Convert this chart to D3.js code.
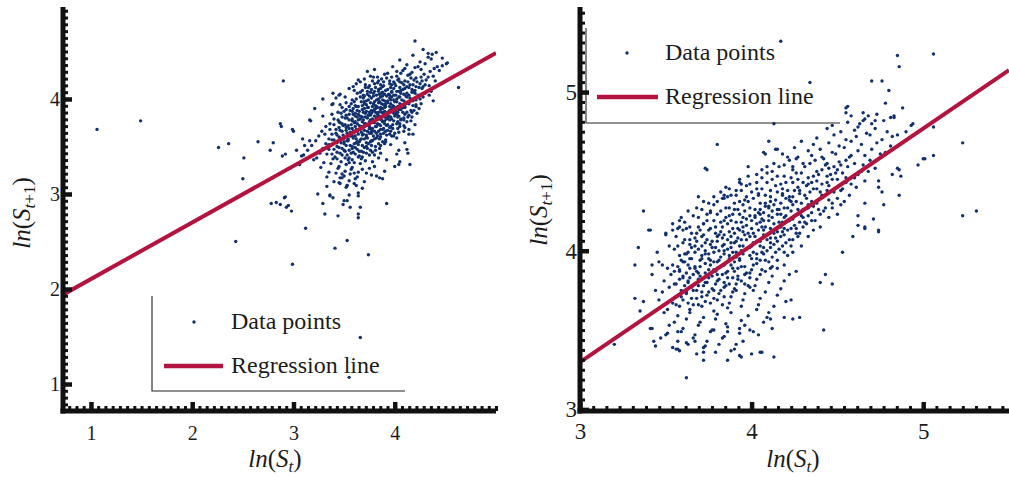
<!DOCTYPE html>
<html>
<head>
<meta charset="utf-8">
<script src="https://cdn.jsdelivr.net/npm/d3@7"></script>
<style>
  body { margin: 0; background: #ffffff; }
  svg { display: block; }
  text { font-family: 'Liberation Serif', 'DejaVu Serif', 'Liberation Sans', sans-serif; fill: #1c1c1c; }
</style>
</head>
<body>
<svg id="chart" width="1009" height="477"></svg>
<script>
// ---- left panel: ln(S_t) vs ln(S_t+1), first sample ----
const leftOutliers = [
  [1.06,3.68],[1.49,3.77],[2.90,4.19],[2.26,3.49],[2.36,3.53],[2.51,3.38],[2.50,3.16],[2.65,3.55],[2.77,3.46],[2.80,3.54],
  [2.87,3.74],[2.88,3.71],[2.89,3.40],[3.00,3.66],[2.78,2.90],[2.83,2.91],[2.87,2.89],[2.91,2.96],[2.93,2.86],[2.98,2.82],
  [2.43,2.50],[2.99,2.26],[3.12,2.64],[3.41,2.43],[3.53,2.51],[3.74,2.36],[3.92,2.90],[3.66,1.49],[3.55,1.07],[4.63,4.12],
  [4.20,4.61],[4.33,4.48],[4.37,4.47],[3.29,2.90],[3.31,2.79],[3.44,2.77],[3.49,2.89],[3.56,2.86],[3.64,2.79],[3.64,2.98],
  [3.64,2.75],[3.24,3.00],[3.36,2.99],[3.53,2.93],[2.92,3.42],[3.03,3.46],[3.08,3.40],[3.11,3.51],[3.16,3.56],[2.99,3.68],
  [3.17,3.77],[3.29,4.00],[3.38,3.94],[3.39,4.06],[3.45,4.04],[3.73,4.29],[4.51,4.37],[4.47,4.35],[4.14,3.63],[4.18,3.63],
  [4.13,3.43],[4.04,3.46],[3.46,3.11],[3.53,3.09],[3.48,3.21],[3.77,3.20],[3.85,3.17],[4.00,3.29],[4.15,3.31],[4.05,3.34],
  [2.95,2.88],[3.66,2.86],[2.92,2.97]
];
const leftCore = [
  [4.28,4.52],[4.41,4.49],[4.18,4.46],[4.33,4.44],[4.47,4.43],[4.05,4.41],[4.25,4.39],[4.36,4.42],[4.52,4.38],
  [3.98,4.34],[4.12,4.36],[4.20,4.33],[4.30,4.37],[4.42,4.34],[3.80,4.31],[4.02,4.29],[4.10,4.32],[4.17,4.28],[4.26,4.31],[4.35,4.29],[4.44,4.30],
  [3.76,4.24],[3.90,4.26],[3.97,4.23],[4.06,4.27],[4.13,4.25],[4.21,4.22],[4.29,4.26],[4.38,4.24],
  [3.70,4.21],[3.84,4.19],[3.92,4.22],[3.99,4.18],[4.04,4.21],[4.10,4.19],[4.16,4.22],[4.22,4.18],[4.31,4.20],[4.40,4.19],
  [3.62,4.16],[3.75,4.14],[3.83,4.17],[3.88,4.13],[3.95,4.16],[4.01,4.14],[4.07,4.17],[4.12,4.13],[4.18,4.15],[4.25,4.16],[4.34,4.14],
  [3.55,4.11],[3.68,4.09],[3.74,4.12],[3.80,4.08],[3.86,4.11],[3.91,4.09],[3.96,4.12],[4.02,4.08],[4.08,4.10],[4.14,4.12],[4.20,4.09],[4.27,4.11],[4.36,4.08],
  [3.46,4.05],[3.63,4.06],[3.70,4.03],[3.76,4.07],[3.82,4.04],[3.87,4.06],[3.92,4.03],[3.97,4.07],[4.01,4.04],[4.06,4.06],[4.11,4.03],[4.17,4.07],[4.23,4.04],[4.30,4.06],
  [3.42,4.01],[3.58,3.99],[3.66,4.02],[3.72,3.98],[3.77,4.01],[3.82,3.99],[3.86,4.02],[3.90,3.98],[3.95,4.01],[3.99,3.99],[4.04,4.02],[4.09,3.98],[4.15,4.01],[4.21,3.99],[4.28,4.02],[4.38,3.98],
  [3.39,3.95],[3.52,3.96],[3.61,3.93],[3.67,3.97],[3.72,3.94],[3.76,3.96],[3.81,3.93],[3.85,3.97],[3.89,3.94],[3.93,3.96],[3.98,3.93],[4.02,3.97],[4.07,3.94],[4.12,3.96],[4.18,3.93],[4.26,3.95],
  [3.21,3.90],[3.48,3.91],[3.56,3.88],[3.62,3.92],[3.68,3.89],[3.73,3.91],[3.77,3.88],[3.82,3.92],[3.86,3.89],[3.90,3.91],[3.95,3.88],[3.99,3.92],[4.04,3.89],[4.10,3.91],[4.16,3.88],[4.24,3.90],
  [3.44,3.86],[3.52,3.83],[3.58,3.87],[3.64,3.84],[3.69,3.86],[3.74,3.83],[3.78,3.87],[3.83,3.84],[3.87,3.86],[3.92,3.83],[3.97,3.87],[4.02,3.84],[4.08,3.86],[4.14,3.83],[4.22,3.85],
  [3.29,3.82],[3.40,3.79],[3.48,3.81],[3.55,3.78],[3.61,3.82],[3.66,3.79],[3.71,3.81],[3.76,3.78],[3.80,3.82],[3.85,3.79],[3.90,3.81],[3.95,3.78],[4.00,3.82],[4.06,3.79],[4.13,3.81],
  [3.16,3.78],[3.36,3.74],[3.45,3.76],[3.51,3.73],[3.58,3.77],[3.63,3.74],[3.68,3.76],[3.73,3.73],[3.78,3.77],[3.83,3.74],[3.88,3.76],[3.93,3.73],[3.99,3.77],[4.05,3.74],[4.12,3.76],[4.20,3.73],
  [3.32,3.71],[3.42,3.68],[3.49,3.72],[3.55,3.69],[3.61,3.71],[3.66,3.68],[3.71,3.72],[3.76,3.69],[3.81,3.71],[3.86,3.68],[3.92,3.72],[3.98,3.69],[4.05,3.71],[4.14,3.68],
  [3.28,3.66],[3.38,3.63],[3.46,3.67],[3.53,3.64],[3.59,3.66],[3.64,3.63],[3.70,3.67],[3.75,3.64],[3.80,3.66],[3.86,3.63],[3.93,3.67],[4.00,3.64],[4.09,3.66],
  [3.09,3.58],[3.25,3.61],[3.35,3.58],[3.43,3.62],[3.50,3.59],[3.56,3.61],[3.62,3.58],[3.68,3.62],[3.73,3.59],[3.79,3.61],[3.85,3.58],[3.92,3.62],[4.02,3.59],
  [3.22,3.56],[3.32,3.53],[3.40,3.57],[3.47,3.54],[3.54,3.56],[3.60,3.53],[3.66,3.57],[3.72,3.54],[3.78,3.56],[3.84,3.53],[3.91,3.57],[4.10,3.54],
  [3.18,3.51],[3.29,3.48],[3.37,3.52],[3.45,3.49],[3.52,3.51],[3.58,3.48],[3.64,3.52],[3.70,3.49],[3.77,3.51],[3.85,3.48],[3.96,3.52],
  [3.14,3.46],[3.26,3.43],[3.35,3.47],[3.43,3.44],[3.50,3.46],[3.57,3.43],[3.63,3.47],[3.69,3.44],[3.76,3.46],[3.86,3.43],[4.12,3.47],
  [3.10,3.41],[3.23,3.38],[3.33,3.42],[3.41,3.39],[3.48,3.41],[3.55,3.38],[3.61,3.42],[3.68,3.39],[3.75,3.41],[3.84,3.38],[4.02,3.42],
  [3.20,3.36],[3.30,3.33],[3.39,3.37],[3.47,3.34],[3.54,3.36],[3.60,3.33],[3.67,3.37],[3.78,3.34],[3.92,3.36],
  [3.06,3.31],[3.27,3.28],[3.37,3.32],[3.45,3.29],[3.52,3.31],[3.58,3.28],[3.66,3.32],[3.80,3.29],[4.04,3.31],
  [3.35,3.23],[3.44,3.27],[3.51,3.24],[3.57,3.26],[3.64,3.23],[3.75,3.27],[3.90,3.24],
  [3.33,3.18],[3.42,3.22],[3.50,3.19],[3.56,3.21],[3.63,3.18],[3.72,3.22],[3.82,3.19],
  [3.40,3.13],[3.48,3.17],[3.55,3.14],[3.61,3.16],[3.70,3.13],[3.88,3.16],
  [3.33,3.08],[3.45,3.12],[3.53,3.09],[3.60,3.11],[3.52,3.07],[3.68,3.06],
  [3.36,2.98],[3.55,2.99],[3.64,3.01],[3.39,2.96],[3.50,2.93]
];
const leftCoreDense = [
  [4.23,4.34],[4.39,4.32],[4.08,4.30],[3.93,4.27],[4.15,4.26],[4.33,4.23],[3.79,4.23],[3.87,4.21],[4.02,4.24],[4.19,4.20],[4.27,4.19],
  [3.66,4.18],[3.80,4.16],[3.97,4.15],[4.05,4.18],[4.21,4.13],[4.30,4.15],[3.59,4.13],[3.71,4.12],[3.84,4.10],[3.89,4.14],[3.99,4.11],
  [4.05,4.12],[4.17,4.10],[4.24,4.12],[3.66,4.07],[3.73,4.05],[3.79,4.06],[3.84,4.08],[3.90,4.05],[3.95,4.04],[4.04,4.08],[4.09,4.05],
  [4.14,4.04],[4.20,4.06],[4.34,4.04],[3.51,4.02],[3.62,4.00],[3.69,4.01],[3.75,4.03],[3.80,3.97],[3.84,4.00],[3.88,4.03],[3.93,3.98],
  [3.97,4.02],[4.02,4.00],[4.07,3.99],[4.12,4.02],[4.18,3.98],[4.25,4.00],[3.46,3.94],[3.57,3.95],[3.64,3.92],[3.70,3.95],[3.74,3.91],
  [3.79,3.95],[3.83,3.91],[3.87,3.95],[3.91,3.92],[3.96,3.95],[4.00,3.91],[4.05,3.95],[4.10,3.92],[4.14,3.95],[4.21,3.92],[3.52,3.89],
  [3.59,3.90],[3.65,3.87],[3.70,3.90],[3.75,3.86],[3.80,3.89],[3.84,3.86],[3.88,3.90],[3.93,3.86],[3.97,3.90],[4.01,3.87],[4.06,3.89],
  [4.12,3.86],[4.19,3.88],[3.38,3.84],[3.47,3.85],[3.55,3.84],[3.61,3.85],[3.66,3.82],[3.71,3.85],[3.76,3.83],[3.81,3.86],[3.85,3.82],
  [3.89,3.85],[3.94,3.82],[3.99,3.85],[4.04,3.82],[4.10,3.84],[4.17,3.81],[3.44,3.78],[3.51,3.80],[3.58,3.79],[3.63,3.81],[3.69,3.78],
  [3.73,3.80],[3.78,3.79],[3.83,3.81],[3.87,3.78],[3.93,3.80],[3.97,3.79],[4.03,3.81],[4.09,3.78],[3.40,3.73],[3.48,3.74],[3.54,3.72],
  [3.60,3.75],[3.65,3.72],[3.70,3.74],[3.75,3.71],[3.80,3.75],[3.86,3.72],[3.90,3.74],[3.96,3.71],[4.02,3.74],[4.09,3.72],[3.36,3.68],
  [3.45,3.70],[3.52,3.67],[3.58,3.69],[3.63,3.66],[3.68,3.70],[3.73,3.66],[3.78,3.69],[3.84,3.66],[3.89,3.69],[3.96,3.66],[4.03,3.69],
  [3.31,3.63],[3.42,3.64],[3.49,3.62],[3.56,3.65],[3.61,3.61],[3.67,3.65],[3.72,3.62],[3.77,3.64],[3.83,3.61],[3.89,3.64],[3.97,3.61],
  [3.38,3.57],[3.46,3.59],[3.53,3.56],[3.59,3.59],[3.65,3.55],[3.70,3.58],[3.76,3.55],[3.82,3.59],[3.88,3.55],[3.35,3.52],[3.43,3.54],
  [3.50,3.53],[3.56,3.51],[3.62,3.54],[3.68,3.51],[3.74,3.53],[3.81,3.50],[3.90,3.53],[3.40,3.47],[3.48,3.48],[3.55,3.46],[3.61,3.49],
  [3.67,3.45],[3.73,3.48],[3.81,3.46],[3.38,3.42],[3.46,3.43],[3.53,3.41],[3.59,3.44],[3.65,3.40],[3.72,3.43],[3.80,3.41],[3.43,3.37],
  [3.51,3.38],[3.58,3.36],[3.64,3.39],[3.71,3.35],[3.55,3.33],[3.68,3.26],[3.60,3.22],[3.46,3.17],[3.62,3.09]
];
const leftCoreCentre = [
  [3.64,4.20],[3.78,4.19],[3.95,4.19],[4.13,4.18],[4.26,4.23],[3.71,4.15],[3.86,4.15],[4.00,4.16],[4.15,4.15],[4.28,4.13],
  [3.60,4.09],[3.77,4.10],[3.93,4.10],[4.06,4.09],[4.19,4.08],[3.69,4.04],[3.85,4.05],[3.99,4.04],[4.12,4.06],[4.27,4.05],
  [3.60,3.97],[3.74,3.99],[3.88,3.99],[4.00,3.97],[4.16,3.98],[3.55,3.92],[3.68,3.93],[3.81,3.90],[3.95,3.92],[4.08,3.91],[4.21,3.94],
  [3.50,3.87],[3.63,3.88],[3.77,3.85],[3.90,3.87],[4.03,3.86],[4.17,3.86],[3.53,3.80],[3.68,3.81],[3.82,3.80],[3.96,3.81],[4.09,3.80],
  [3.46,3.75],[3.61,3.76],[3.75,3.76],[3.90,3.77],[4.03,3.76],[4.16,3.77],[3.52,3.70],[3.67,3.71],[3.82,3.71],[3.95,3.70],[4.10,3.70],
  [3.48,3.66],[3.62,3.66],[3.77,3.66],[3.91,3.66],[4.04,3.65],[3.45,3.60],[3.58,3.61],[3.72,3.60],[3.86,3.60],[3.99,3.61],
  [3.50,3.55],[3.63,3.55],[3.77,3.56],[3.91,3.55],[3.43,3.50],[3.58,3.50],[3.72,3.50],[3.86,3.51],[3.51,3.45],[3.65,3.45],[3.78,3.44],
  [3.83,4.23],[3.89,4.18],[4.03,4.20],[4.09,4.15],[3.81,4.12],[3.97,4.08],[4.10,4.11],[3.73,4.08],[3.88,4.07],[4.05,4.02],[3.79,4.03],
  [3.94,4.05],[3.70,3.97],[3.84,3.96],[3.96,3.99],[4.11,3.96],[3.78,3.92],[3.91,3.95],[4.03,3.92],[3.72,3.87],[3.86,3.91],[3.99,3.88],
  [3.59,3.84],[3.74,3.83],[3.88,3.82],[4.01,3.84],[3.64,3.78],[3.79,3.78],[3.92,3.79],[4.06,3.78],[3.57,3.73],[3.71,3.74],[3.85,3.73],
  [3.98,3.73],[3.62,3.68],[3.75,3.69],[3.88,3.68],[3.56,3.63],[3.69,3.63],[3.82,3.64],[3.95,3.63],[3.54,3.58],[3.67,3.58],[3.80,3.58]
];
const leftFit = { intercept: 1.51, slope: 0.595 };
const leftXTicks = [1, 2, 3, 4];
const leftYTicks = [1, 2, 3, 4];

// ---- right panel: second sample ----
const rightOutliers = [
  [4.17,5.32],[4.85,5.23],[4.86,5.16],[5.06,5.24],[4.34,5.06],[4.70,5.07],[4.76,5.07],[4.80,5.01],[4.78,4.93],[4.81,4.84],
  [4.83,4.84],[4.88,4.90],[4.55,4.90],[4.55,4.87],[4.13,4.80],[4.93,4.79],[5.06,4.78],[5.23,4.68],[5.06,4.60],[5.00,4.58],
  [4.97,4.54],[4.86,4.51],[4.87,4.47],[4.86,4.35],[5.23,4.22],[5.31,4.25],[4.74,4.13],[4.71,4.20],[4.66,4.15],[4.59,4.09],
  [4.53,3.99],[4.47,3.79],[4.40,3.80],[4.43,3.85],[4.42,3.50],[4.28,3.58],[4.24,3.57],[4.19,3.58],[4.13,3.33],[4.05,3.36],
  [3.93,3.34],[3.86,3.31],[3.72,3.31],[3.62,3.20],[3.20,3.41],[3.44,3.40],[3.43,3.43],[3.56,3.38],[3.67,3.43],[3.34,4.02],
  [3.37,4.25],[3.32,3.91],[3.32,3.70],[3.37,3.68],[3.35,3.62],[3.40,4.13],[3.50,4.10],[3.74,4.51],[3.80,4.67],[3.69,4.34],
  [3.98,4.53],[4.09,4.53],[4.10,4.69],[4.08,4.61],[4.14,4.64],[4.21,4.59],[4.24,4.53],[4.03,4.48],[3.76,4.25],[3.84,4.35],
  [3.94,4.42],[4.15,4.64],[4.07,4.62],[3.73,4.52],[3.85,4.40],[3.91,4.38],[3.93,4.43],[3.83,4.33],[3.59,4.21],[3.41,4.13],
  [3.54,4.13],[3.58,4.15],[3.62,4.14],[3.57,3.38],[3.72,3.36],[3.94,3.33],[3.91,3.41],[4.06,3.36],[3.73,3.40],[3.62,3.42],
  [3.51,3.48],[3.57,3.49],[3.41,3.51],[3.42,3.91],[3.42,3.85],[3.48,3.91],[3.48,3.74],[4.23,3.69],[4.09,3.58],[4.11,3.57],
  [3.99,3.50],[4.01,3.49],[3.93,3.51],[3.86,3.49],[3.78,3.50],[4.56,4.91],[4.65,4.87],[4.68,4.85],[4.65,4.82],[4.72,4.82],
  [4.63,4.80],[4.83,4.85],[4.94,4.80],[4.90,4.75],[4.85,4.73],[4.82,4.72],[5.01,4.58],[4.85,4.52],[4.82,4.48],[4.76,4.37],
  [4.74,4.40],[4.74,4.44],[4.77,4.29],[4.66,4.30],[4.62,4.22],[4.62,4.16],[4.66,4.14],[4.74,4.12]
];
const rightCore = [
  [4.58,4.85],[4.66,4.83],[4.73,4.86],[4.47,4.79],[4.56,4.81],[4.62,4.78],[4.70,4.80],[4.77,4.82],
  [4.44,4.77],[4.52,4.75],[4.60,4.76],[4.67,4.74],[4.72,4.77],[4.79,4.75],[4.38,4.71],[4.48,4.73],[4.55,4.70],[4.61,4.72],[4.69,4.73],[4.76,4.70],
  [4.29,4.69],[4.36,4.67],[4.45,4.68],[4.51,4.66],[4.58,4.69],[4.64,4.67],[4.73,4.68],[4.81,4.66],
  [4.25,4.65],[4.33,4.63],[4.40,4.64],[4.47,4.62],[4.54,4.65],[4.62,4.63],[4.70,4.64],[4.78,4.62],
  [4.18,4.61],[4.27,4.59],[4.35,4.60],[4.42,4.58],[4.49,4.61],[4.57,4.59],[4.66,4.60],[4.75,4.61],
  [4.13,4.55],[4.22,4.57],[4.30,4.55],[4.37,4.57],[4.43,4.54],[4.51,4.56],[4.60,4.55],[4.69,4.57],
  [4.06,4.51],[4.16,4.53],[4.24,4.51],[4.31,4.53],[4.38,4.50],[4.45,4.52],[4.50,4.51],[4.56,4.53],[4.64,4.50],[4.72,4.52],
  [3.98,4.47],[4.09,4.49],[4.19,4.47],[4.26,4.49],[4.33,4.46],[4.39,4.48],[4.44,4.47],[4.49,4.49],[4.55,4.46],[4.62,4.48],
  [3.93,4.45],[4.03,4.43],[4.12,4.45],[4.20,4.43],[4.27,4.45],[4.33,4.42],[4.38,4.44],[4.44,4.43],[4.50,4.45],[4.58,4.42],[4.66,4.44],
  [3.87,4.39],[3.97,4.41],[4.06,4.39],[4.14,4.41],[4.21,4.38],[4.27,4.40],[4.32,4.41],[4.38,4.39],[4.45,4.41],[4.52,4.38],[4.61,4.40],
  [3.82,4.37],[3.91,4.35],[4.00,4.37],[4.08,4.35],[4.15,4.37],[4.22,4.34],[4.28,4.36],[4.34,4.37],[4.41,4.35],[4.48,4.37],[4.57,4.35],
  [3.72,4.31],[3.84,4.33],[3.93,4.31],[4.01,4.33],[4.08,4.30],[4.14,4.32],[4.20,4.33],[4.26,4.31],[4.32,4.33],[4.38,4.30],[4.45,4.32],[4.54,4.31],
  [3.68,4.27],[3.78,4.29],[3.87,4.27],[3.95,4.29],[4.02,4.26],[4.08,4.28],[4.13,4.29],[4.19,4.27],[4.24,4.29],[4.30,4.26],[4.36,4.28],[4.43,4.27],[4.52,4.29],
  [3.63,4.25],[3.74,4.23],[3.82,4.25],[3.89,4.23],[3.96,4.25],[4.02,4.22],[4.07,4.24],[4.12,4.25],[4.17,4.23],[4.23,4.25],[4.29,4.22],[4.35,4.24],[4.42,4.25],[4.50,4.23],
  [3.58,4.19],[3.69,4.21],[3.78,4.19],[3.85,4.21],[3.91,4.18],[3.97,4.20],[4.02,4.21],[4.07,4.19],[4.12,4.21],[4.18,4.18],[4.24,4.20],[4.30,4.21],[4.37,4.19],[4.45,4.21],
  [3.54,4.17],[3.64,4.15],[3.72,4.17],[3.79,4.15],[3.86,4.17],[3.92,4.14],[3.97,4.16],[4.03,4.17],[4.08,4.15],[4.13,4.17],[4.19,4.14],[4.25,4.16],[4.32,4.17],[4.40,4.15],
  [3.50,4.11],[3.60,4.13],[3.68,4.11],[3.75,4.13],[3.81,4.10],[3.87,4.12],[3.93,4.13],[3.98,4.11],[4.04,4.13],[4.09,4.10],[4.15,4.12],[4.21,4.13],[4.28,4.11],[4.36,4.13],
  [3.56,4.09],[3.64,4.07],[3.71,4.09],[3.77,4.06],[3.83,4.08],[3.88,4.09],[3.94,4.07],[3.99,4.09],[4.05,4.06],[4.11,4.08],[4.17,4.09],[4.24,4.07],[4.33,4.09],
  [3.52,4.03],[3.60,4.05],[3.67,4.03],[3.73,4.05],[3.79,4.02],[3.84,4.04],[3.90,4.05],[3.95,4.03],[4.01,4.05],[4.07,4.02],[4.13,4.04],[4.20,4.05],[4.29,4.03],
  [3.45,3.99],[3.55,4.01],[3.63,3.99],[3.69,4.01],[3.75,3.98],[3.81,4.00],[3.86,4.01],[3.91,3.99],[3.97,4.01],[4.03,3.98],[4.09,4.00],[4.16,4.01],[4.24,3.99],
  [3.58,3.97],[3.65,3.95],[3.71,3.97],[3.76,3.94],[3.82,3.96],[3.87,3.97],[3.93,3.95],[3.99,3.97],[4.05,3.94],[4.12,3.96],[4.21,3.97],
  [3.46,3.93],[3.54,3.91],[3.61,3.93],[3.67,3.90],[3.73,3.92],[3.78,3.93],[3.84,3.91],[3.90,3.93],[3.96,3.90],[4.03,3.92],[4.10,3.93],[4.19,3.91],
  [3.51,3.89],[3.58,3.87],[3.64,3.89],[3.69,3.86],[3.75,3.88],[3.80,3.89],[3.86,3.87],[3.92,3.89],[3.99,3.86],[4.06,3.88],[4.15,3.89],[4.26,3.87],
  [3.53,3.85],[3.60,3.83],[3.66,3.85],[3.71,3.82],[3.77,3.84],[3.83,3.85],[3.89,3.83],[3.96,3.85],[4.03,3.82],[4.12,3.84],[4.22,3.85],
  [3.49,3.81],[3.56,3.79],[3.63,3.81],[3.69,3.78],[3.74,3.80],[3.80,3.81],[3.87,3.79],[3.94,3.81],[4.02,3.78],[4.10,3.80],[4.19,3.81],
  [3.44,3.75],[3.52,3.77],[3.59,3.75],[3.65,3.77],[3.71,3.74],[3.77,3.76],[3.84,3.77],[3.91,3.75],[3.99,3.77],[4.08,3.74],[4.17,3.76],
  [3.56,3.71],[3.62,3.73],[3.68,3.70],[3.74,3.72],[3.81,3.73],[3.88,3.71],[3.96,3.73],[4.05,3.70],[4.15,3.72],
  [3.46,3.69],[3.54,3.67],[3.60,3.69],[3.66,3.66],[3.73,3.68],[3.80,3.69],[3.87,3.67],[3.95,3.69],[4.04,3.66],[4.20,3.68],
  [3.51,3.63],[3.58,3.65],[3.64,3.63],[3.71,3.65],[3.78,3.62],[3.86,3.64],[3.94,3.65],[4.03,3.63],[4.13,3.65],
  [3.49,3.61],[3.57,3.59],[3.64,3.61],[3.72,3.58],[3.80,3.60],[3.88,3.61],[3.98,3.59],[4.10,3.61],
  [3.55,3.55],[3.62,3.57],[3.70,3.55],[3.79,3.57],[3.85,3.54],[3.94,3.56],[4.07,3.55],
  [3.42,3.51],[3.52,3.53],[3.60,3.51],[3.69,3.53],[3.77,3.50],[3.86,3.52],[3.96,3.53],[4.12,3.51],
  [3.50,3.47],[3.59,3.49],[3.67,3.47],[3.76,3.49],[3.84,3.46],[3.93,3.48],[4.04,3.47],
  [3.47,3.45],[3.57,3.43],[3.66,3.45],[3.74,3.43],[3.83,3.45],[3.95,3.43],
  [3.54,3.39],[3.63,3.41],[3.72,3.39],[3.81,3.41],[3.90,3.38],[3.58,3.37],[3.68,3.35],[3.79,3.36],[3.88,3.37],[4.00,3.35]
];
const rightCoreDense = [
  [4.26,4.58],[4.41,4.59],[4.55,4.57],[4.19,4.54],[4.34,4.55],[4.48,4.53],[4.65,4.54],[4.12,4.50],[4.29,4.49],[4.41,4.51],[4.53,4.49],[4.68,4.50],
  [4.06,4.46],[4.15,4.47],[4.23,4.46],[4.36,4.47],[4.47,4.45],[4.60,4.46],[3.99,4.42],[4.09,4.43],[4.17,4.42],[4.24,4.43],[4.30,4.43],[4.41,4.42],[4.55,4.43],
  [3.94,4.38],[4.03,4.39],[4.11,4.38],[4.18,4.39],[4.25,4.38],[4.36,4.39],[4.44,4.38],[4.53,4.39],
  [3.78,4.34],[3.88,4.35],[3.97,4.34],[4.04,4.35],[4.11,4.34],[4.18,4.35],[4.24,4.34],[4.31,4.35],[4.42,4.34],[4.50,4.33],
  [3.75,4.30],[3.90,4.30],[3.98,4.31],[4.05,4.30],[4.11,4.31],[4.17,4.30],[4.23,4.31],[4.29,4.30],[4.35,4.31],[4.47,4.30],
  [3.71,4.26],[3.85,4.27],[3.92,4.26],[3.99,4.27],[4.05,4.26],[4.10,4.27],[4.15,4.26],[4.21,4.27],[4.27,4.26],[4.33,4.27],[4.39,4.26],[4.47,4.27],
  [3.66,4.22],[3.80,4.23],[3.87,4.22],[3.93,4.23],[3.99,4.22],[4.05,4.23],[4.10,4.22],[4.15,4.23],[4.20,4.22],[4.27,4.23],[4.33,4.22],[4.40,4.23],
  [3.61,4.18],[3.74,4.19],[3.82,4.18],[3.88,4.19],[3.94,4.18],[4.00,4.19],[4.05,4.18],[4.10,4.19],[4.16,4.18],[4.22,4.19],[4.28,4.18],[4.35,4.19],
  [3.57,4.14],[3.69,4.15],[3.76,4.14],[3.83,4.15],[3.89,4.14],[3.95,4.15],[4.00,4.14],[4.06,4.15],[4.11,4.14],[4.17,4.15],[4.23,4.14],[4.30,4.15],
  [3.65,4.11],[3.72,4.10],[3.79,4.11],[3.84,4.10],[3.90,4.11],[3.96,4.10],[4.01,4.11],[4.07,4.10],[4.13,4.11],[4.19,4.10],[4.26,4.11],
  [3.61,4.07],[3.68,4.06],[3.74,4.07],[3.80,4.06],[3.86,4.07],[3.91,4.06],[3.97,4.07],[4.03,4.06],[4.09,4.07],[4.15,4.06],[4.22,4.07],
  [3.57,4.03],[3.65,4.02],[3.71,4.03],[3.77,4.02],[3.83,4.03],[3.88,4.02],[3.93,4.03],[3.99,4.02],[4.05,4.03],[4.11,4.02],[4.18,4.03],
  [3.61,3.98],[3.67,3.99],[3.73,3.98],[3.78,3.99],[3.84,3.98],[3.89,3.99],[3.95,3.98],[4.01,3.99],[4.07,3.98],[4.14,3.99],
  [3.59,3.94],[3.64,3.95],[3.70,3.94],[3.75,3.95],[3.81,3.94],[3.87,3.95],[3.93,3.94],[4.00,3.95],[4.08,3.94],
  [3.57,3.90],[3.63,3.91],[3.70,3.90],[3.76,3.91],[3.82,3.90],[3.88,3.91],[3.94,3.90],[4.01,3.91],[4.12,3.90],
  [3.55,3.87],[3.62,3.86],[3.68,3.87],[3.73,3.86],[3.79,3.87],[3.85,3.86],[3.90,3.87],[3.97,3.86],[4.08,3.87],
  [3.58,3.82],[3.64,3.83],[3.69,3.82],[3.75,3.83],[3.81,3.82],[3.86,3.83],[3.92,3.82],[3.99,3.83],
  [3.55,3.79],[3.61,3.78],[3.67,3.79],[3.72,3.78],[3.79,3.79],[3.85,3.78],[3.91,3.79],[3.98,3.78],
  [3.62,3.74],[3.68,3.75],[3.75,3.74],[3.82,3.75],[3.89,3.74],
  [3.59,3.71],[3.65,3.70],[3.71,3.71],[3.78,3.70],[3.84,3.71],[3.56,3.66],[3.63,3.67],[3.69,3.66],[3.76,3.67],[3.83,3.66]
];
const rightCoreCentre = [
  [3.80,4.31],[3.96,4.32],[4.10,4.28],[4.22,4.32],[4.33,4.29],[3.76,4.24],[3.90,4.26],[4.04,4.24],[4.16,4.26],[4.28,4.24],
  [3.72,4.17],[3.84,4.19],[3.95,4.21],[4.06,4.20],[4.19,4.21],[4.31,4.18],[3.70,4.13],[3.82,4.12],[3.95,4.12],[4.07,4.13],[4.18,4.12],[4.26,4.14],
  [3.67,4.08],[3.80,4.09],[3.92,4.08],[4.02,4.09],[4.14,4.08],[4.27,4.09],[3.64,4.04],[3.76,4.04],[3.88,4.05],[4.00,4.03],[4.11,4.05],[4.23,4.03],
  [3.62,3.98],[3.73,4.00],[3.84,4.00],[3.94,4.00],[4.06,3.99],[4.19,3.99],[3.60,3.93],[3.71,3.95],[3.80,3.93],[3.91,3.96],[4.03,3.95],[4.15,3.94],
  [3.58,3.88],[3.67,3.89],[3.78,3.88],[3.89,3.89],[4.00,3.88],[4.11,3.89],[3.60,3.84],[3.70,3.84],[3.80,3.85],[3.92,3.84],[4.05,3.85],
  [3.63,3.80],[3.73,3.80],[3.84,3.80],[3.96,3.79],[3.66,3.75],[3.78,3.75],[3.90,3.76],[4.01,3.75],
  [3.86,4.34],[4.04,4.36],[4.18,4.36],[4.28,4.38],[4.40,4.37],[4.35,4.43],[4.46,4.48],[4.52,4.54],[4.58,4.60],[4.44,4.55]
];
const rightFit = { intercept: 1.09, slope: 0.736 };
const rightXTicks = [3, 4, 5];
const rightYTicks = [3, 4, 5];

const legendLabels = ['Data points', 'Regression line'];
const axisTitleX = { base: 'S', sub: 't' };
const axisTitleY = { base: 'S', sub: 't', subTail: '+1' };

const SERIF = "'Liberation Serif', 'DejaVu Serif', 'Liberation Sans', sans-serif";
const DOT = '#11306e';
const FIT = '#b3133f';

class RegressionPanel {
  constructor(svg, cfg) {
    this.svg = svg;
    this.cfg = cfg;
    this.x = d3.scaleLinear().domain(cfg.xDomain).range(cfg.xRange);
    this.y = d3.scaleLinear().domain(cfg.yDomain).range(cfg.yRange);
    this.g = svg.append('g').attr('class', 'panel');
    this.draw();
  }

  draw() {
    const c = this.cfg;
    const [xl, xr] = this.x.range();
    const [yb, yt] = this.y.range();

    this.g.append('clipPath').attr('id', c.id + '-clip')
      .append('rect').attr('x', xl).attr('y', yt).attr('width', xr - xl).attr('height', yb - yt);

    const plot = this.g.append('g').attr('clip-path', `url(#${c.id}-clip)`);

    // scatter
    plot.append('g')
      .selectAll('circle')
      .data(c.points)
      .enter().append('circle')
      .attr('cx', d => this.x(d[0]))
      .attr('cy', d => this.y(d[1]))
      .attr('r', 1.7)
      .attr('fill', DOT);

    // fitted line across the whole x range
    const line = d3.line().x(d => this.x(d)).y(d => this.y(c.fit.intercept + c.fit.slope * d));
    plot.append('path')
      .datum(this.x.domain())
      .attr('d', line)
      .attr('fill', 'none')
      .attr('stroke', FIT)
      .attr('stroke-width', 4);

    this.drawLegend();
    this.drawAxes();
    this.drawTitles();
  }

  minorValues(scale, major, step) {
    const [d0, d1] = scale.domain();
    const m0 = major[0];
    return d3.range(Math.ceil((d0 - m0) / step), Math.floor((d1 - m0) / step) + 1)
      .map(k => m0 + k * step)
      .filter(v => Math.abs(scale(v) - scale(d0)) > 5);
  }

  drawAxes() {
    const c = this.cfg;
    const [xl, xr] = this.x.range();
    const [yb, yt] = this.y.range();

    // minor ticks (inward)
    const xMinor = this.g.append('g').attr('transform', `translate(0,${yb})`)
      .call(d3.axisBottom(this.x).tickValues(this.minorValues(this.x, c.xTicks, c.xMinor)).tickSizeInner(-5).tickSizeOuter(0).tickFormat(''));
    const yMinor = this.g.append('g').attr('transform', `translate(${xl},0)`)
      .call(d3.axisLeft(this.y).tickValues(this.minorValues(this.y, c.yTicks, c.yMinor)).tickSizeInner(-5).tickSizeOuter(0).tickFormat(''));
    [xMinor, yMinor].forEach(a => {
      a.select('.domain').remove();
      a.selectAll('.tick line').attr('stroke', '#111').attr('stroke-width', 3);
    });

    // major ticks + labels
    const xMajor = this.g.append('g').attr('transform', `translate(0,${yb})`)
      .call(d3.axisBottom(this.x).tickValues(c.xTicks).tickSizeInner(-9).tickSizeOuter(0).tickPadding(c.xPad).tickFormat(d3.format('d')));
    const yMajor = this.g.append('g').attr('transform', `translate(${xl},0)`)
      .call(d3.axisLeft(this.y).tickValues(c.yTicks).tickSizeInner(-9).tickSizeOuter(0).tickPadding(c.yPad).tickFormat(d3.format('d')));
    [xMajor, yMajor].forEach(a => {
      a.attr('font-family', null).attr('font-size', null);
      a.select('.domain').remove();
      a.selectAll('.tick line').attr('stroke', '#111').attr('stroke-width', 4.5);
      a.selectAll('.tick text')
        .style('font-family', SERIF)
        .style('font-size', c.tickFont + 'px')
        .attr('fill', '#1c1c1c');
    });

    // thick frame lines (left + bottom only)
    this.g.append('line')
      .attr('x1', xl).attr('x2', xl).attr('y1', yt).attr('y2', yb + 2.5)
      .attr('stroke', '#111').attr('stroke-width', 5);
    this.g.append('line')
      .attr('x1', xl - 2.5).attr('x2', xr).attr('y1', yb).attr('y2', yb)
      .attr('stroke', '#111').attr('stroke-width', 5);
  }

  drawLegend() {
    const L = this.cfg.legend;
    const lg = this.g.append('g').attr('class', 'legend');
    lg.append('path')
      .attr('d', `M${L.frameX},${L.frameTop}V${L.frameBottom}H${L.frameRight}`)
      .attr('fill', 'none').attr('stroke', '#222').attr('stroke-width', 1.1);
    lg.append('circle').attr('cx', L.dotX).attr('cy', L.dotY).attr('r', 1.7).attr('fill', DOT);
    lg.append('line')
      .attr('x1', L.lineX1).attr('x2', L.lineX2).attr('y1', L.lineY).attr('y2', L.lineY)
      .attr('stroke', FIT).attr('stroke-width', 4.5);
    lg.selectAll('text.lab')
      .data(legendLabels)
      .enter().append('text')
      .attr('class', 'lab')
      .attr('x', L.textX)
      .attr('y', (d, i) => L.baselines[i])
      .style('font-family', SERIF)
      .style('font-size', '24px')
      .text(d => d);
  }

  drawTitles() {
    const c = this.cfg;
    const fs = 25;

    const tx = this.g.append('text')
      .attr('x', c.xTitle[0]).attr('y', c.xTitle[1])
      .attr('text-anchor', 'middle')
      .style('font-family', SERIF)
      .style('font-size', fs + 'px');
    tx.append('tspan').style('font-style', 'italic').text('ln');
    tx.append('tspan').text('(');
    tx.append('tspan').style('font-style', 'italic').text(axisTitleX.base);
    tx.append('tspan').attr('dy', 5).style('font-style', 'italic').style('font-size', '17px').text(axisTitleX.sub);
    tx.append('tspan').attr('dy', -5).text(')');

    const ty = this.g.append('text')
      .attr('transform', `translate(${c.yTitle[0]},${c.yTitle[1]}) rotate(-90)`)
      .attr('text-anchor', 'middle')
      .style('font-family', SERIF)
      .style('font-size', fs + 'px');
    ty.append('tspan').style('font-style', 'italic').text('ln');
    ty.append('tspan').text('(');
    ty.append('tspan').style('font-style', 'italic').text(axisTitleY.base);
    ty.append('tspan').attr('dy', 5).style('font-style', 'italic').style('font-size', '17px').text(axisTitleY.sub);
    ty.append('tspan').style('font-size', '17px').text(axisTitleY.subTail);
    ty.append('tspan').attr('dy', -5).text(')');
  }
}

const svg = d3.select('#chart');

new RegressionPanel(svg, {
  id: 'left',
  xDomain: [0.724, 5.0], xRange: [63, 496],
  yDomain: [0.716, 4.968], yRange: [411, 7],
  xTicks: leftXTicks, yTicks: leftYTicks,
  xMinor: 1 / 14, yMinor: 1 / 14,
  xPad: 15, yPad: 3, tickFont: 20,
  points: [...leftOutliers, ...leftCore, ...leftCoreDense, ...leftCoreCentre],
  fit: leftFit,
  legend: {
    frameX: 152, frameTop: 296, frameBottom: 391, frameRight: 405,
    dotX: 194, dotY: 322, lineX1: 164, lineX2: 223, lineY: 366,
    textX: 231, baselines: [329, 373]
  },
  xTitle: [275, 467], yTitle: [30, 213]
});

new RegressionPanel(svg, {
  id: 'right',
  xDomain: [3.0, 5.5], xRange: [580, 1009],
  yDomain: [2.99, 5.536], yRange: [411, 7],
  xTicks: rightXTicks, yTicks: rightYTicks,
  xMinor: 1 / 13, yMinor: 1 / 16,
  xPad: 12, yPad: 3, tickFont: 23,
  points: [...rightOutliers, ...rightCore, ...rightCoreDense, ...rightCoreCentre],
  fit: rightFit,
  legend: {
    frameX: 586, frameTop: 28, frameBottom: 123, frameRight: 840,
    dotX: 627, dotY: 53, lineX1: 597, lineX2: 658, lineY: 97,
    textX: 665, baselines: [60, 104]
  },
  xTitle: [793, 467], yTitle: [547, 210]
});
</script>
</body>
</html>
